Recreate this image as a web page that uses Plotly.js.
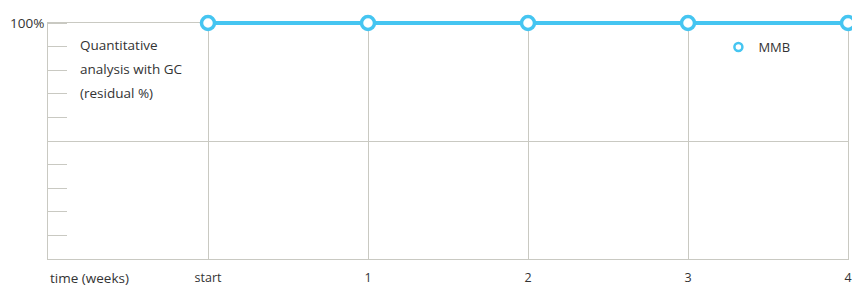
<!DOCTYPE html>
<html>
<head>
<meta charset="utf-8">
<script src="https://cdn.plot.ly/plotly-3.0.1.min.js"></script>
<style>
html,body{margin:0;padding:0;background:#fff}#chart{width:852px;height:286px}
#chart .cartesianlayer *{clip-path:none !important}
</style>
</head>
<body>
<div id="chart"></div>
<script>
var weekPositions = [0, 1, 2, 3, 4];
var weekLabels = ['start', '1', '2', '3', '4'];
var mmbResidual = [100, 100, 100, 100, 100];
var seriesName = 'MMB';
var yTickVals = [0, 50, 100];
var yTickText = ['', '', '100%'];
var noteLines = ['Quantitative', 'analysis with GC', '(residual %)'];

var blue = '#45c5f1';
var grid = '#c9c9c2';
var textCol = '#333333';
var fontFam = '"Open Sans", "DejaVu Sans", sans-serif';

var traces = [
  {
    x: weekPositions, y: mmbResidual, mode: 'lines+markers', name: seriesName,
    showlegend: false, cliponaxis: false,
    line: {color: blue, width: 4},
    marker: {symbol: 'circle', size: 13, color: '#ffffff', line: {color: blue, width: 3.5}}
  },
  {
    x: [null], y: [null], mode: 'markers', name: seriesName, showlegend: true,
    marker: {symbol: 'circle', size: 8, color: '#ffffff', line: {color: blue, width: 2.5}}
  }
];

var annotations = noteLines.map(function (t, i) {
  return {
    text: t, xref: 'paper', yref: 'paper', x: 0.0375, y: 0.907 - i * 0.102,
    xanchor: 'left', yanchor: 'middle', showarrow: false,
    font: {family: fontFam, size: 13.5, color: textCol}
  };
});
annotations.push({
  text: 'time (weeks)', xref: 'paper', yref: 'paper', x: 0, y: -0.08,
  xanchor: 'left', yanchor: 'middle', showarrow: false,
  font: {family: fontFam, size: 13.5, color: textCol}
});

var layout = {
  width: 852, height: 286,
  margin: {l: 48, r: 4, t: 23, b: 27, pad: 0},
  paper_bgcolor: '#ffffff', plot_bgcolor: '#ffffff',
  font: {family: fontFam, size: 13, color: textCol},
  showlegend: true,
  legend: {x: 0.838, y: 0.962, xanchor: 'left', yanchor: 'top', bgcolor: 'rgba(0,0,0,0)',
           font: {family: fontFam, size: 13, color: textCol}},
  xaxis: {
    range: [-1, 4], tickvals: weekPositions, ticktext: weekLabels,
    showgrid: true, gridcolor: grid, gridwidth: 1, zeroline: false,
    showline: true, linecolor: grid, linewidth: 1, mirror: true, layer: 'below traces',
    ticks: 'outside', ticklen: 7, tickcolor: 'rgba(0,0,0,0)',
    tickfont: {family: fontFam, size: 12.5, color: textCol}, fixedrange: true
  },
  yaxis: {
    range: [0, 100], tickvals: yTickVals, ticktext: yTickText,
    showgrid: true, gridcolor: grid, gridwidth: 1, zeroline: false,
    showline: true, linecolor: grid, linewidth: 1, mirror: true, layer: 'below traces',
    ticks: '', ticklen: 0,
    minor: {dtick: 10, tick0: 0, ticks: 'inside', ticklen: 19, tickcolor: grid, tickwidth: 1, showgrid: false},
    tickfont: {family: fontFam, size: 13.5, color: textCol}, fixedrange: true
  },
  annotations: annotations
};

Plotly.newPlot('chart', traces, layout, {displayModeBar: false, staticPlot: true});
</script>
</body>
</html>
